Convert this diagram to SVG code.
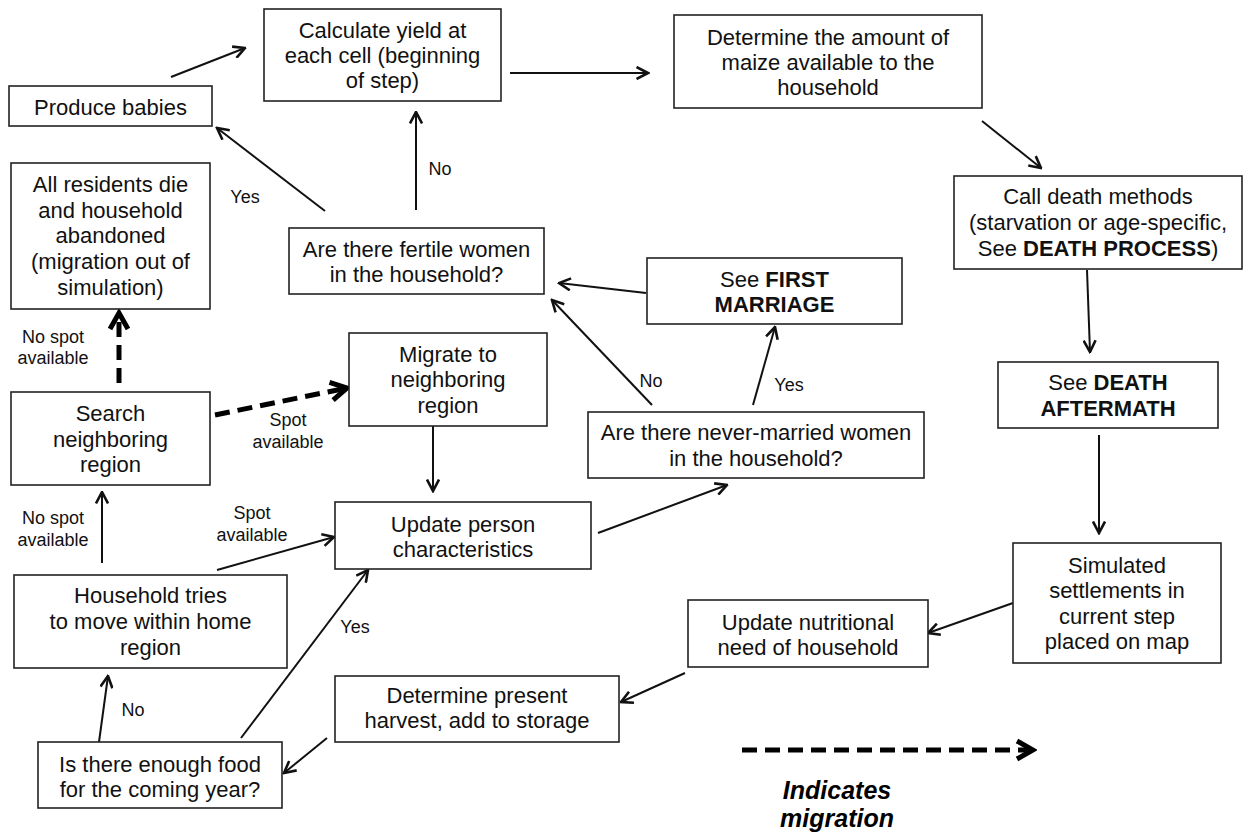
<svg xmlns="http://www.w3.org/2000/svg" width="1249" height="834" viewBox="0 0 1249 834">
<defs>
<style>
.box{fill:#fff;stroke:#222;stroke-width:1.6}
.t{font-family:"Liberation Sans",Arial,sans-serif;font-size:22px;fill:#111;text-anchor:middle}
.b{font-weight:bold}
.l{font-family:"Liberation Sans",Arial,sans-serif;font-size:18px;fill:#111;text-anchor:middle}
.c{stroke:#111;stroke-width:2;fill:none;marker-end:url(#ah)}
.d{stroke:#000;stroke-width:5;fill:none;stroke-dasharray:15 8;marker-end:url(#dh)}
.lg{font-family:"Liberation Sans",Arial,sans-serif;font-size:25px;font-weight:bold;font-style:italic;fill:#000;text-anchor:middle}
</style>
<marker id="ah" viewBox="0 0 14 14" markerWidth="14" markerHeight="14" refX="12.5" refY="7" orient="auto" markerUnits="userSpaceOnUse">
<path d="M1,1 L12.5,7 L1,13" fill="none" stroke="#111" stroke-width="2.6" stroke-linejoin="miter"/>
</marker>
<marker id="dh" viewBox="0 0 24 24" markerWidth="24" markerHeight="24" refX="20" refY="12" orient="auto" markerUnits="userSpaceOnUse">
<path d="M4,3 L20,12 L4,21" fill="none" stroke="#000" stroke-width="5"/>
</marker>
</defs>
<rect width="1249" height="834" fill="#fff"/>

<g id="connectors">
<line class="c" x1="171" y1="77" x2="245" y2="48"/>
<line class="c" x1="510" y1="73" x2="648" y2="73"/>
<line class="c" x1="982" y1="121" x2="1041" y2="168"/>
<line class="c" x1="1087" y1="270" x2="1090" y2="352"/>
<line class="c" x1="1099" y1="435" x2="1099" y2="533"/>
<line class="c" x1="1013" y1="603" x2="928" y2="633"/>
<line class="c" x1="685" y1="673" x2="621" y2="702"/>
<line class="c" x1="327" y1="738" x2="284" y2="773"/>
<line class="c" x1="99" y1="742" x2="108" y2="676"/>
<line class="c" x1="241" y1="738" x2="368" y2="570"/>
<line class="c" x1="102" y1="563" x2="102" y2="492"/>
<line class="c" x1="217" y1="570" x2="334" y2="537"/>
<line class="d" x1="119" y1="383" x2="119" y2="313"/>
<line class="d" x1="215" y1="415" x2="347" y2="388"/>
<line class="c" x1="433" y1="426" x2="433" y2="491"/>
<line class="c" x1="598" y1="533" x2="727" y2="485"/>
<line class="c" x1="753" y1="405" x2="775" y2="327"/>
<line class="c" x1="652" y1="405" x2="552" y2="300"/>
<line class="c" x1="646" y1="293" x2="559" y2="283"/>
<line class="c" x1="416" y1="210" x2="416" y2="112"/>
<line class="c" x1="325" y1="211" x2="217" y2="128"/>
<text class="l" x="245" y="203">Yes</text>
<text class="l" x="440" y="175">No</text>
<text class="l" x="53" y="343">No spot</text>
<text class="l" x="53" y="364">available</text>
<text class="l" x="288" y="426">Spot</text>
<text class="l" x="288" y="448">available</text>
<text class="l" x="53" y="524">No spot</text>
<text class="l" x="53" y="546">available</text>
<text class="l" x="252" y="519">Spot</text>
<text class="l" x="252" y="541">available</text>
<text class="l" x="355" y="633">Yes</text>
<text class="l" x="133" y="716">No</text>
<text class="l" x="651" y="387">No</text>
<text class="l" x="789" y="391">Yes</text>
</g>

<g id="produce-babies">
<rect class="box" x="9" y="86" width="203" height="40"/>
<text class="t" x="110.5" y="115">Produce babies</text>
</g>
<g id="calculate-yield">
<rect class="box" x="264" y="9" width="237" height="92"/>
<text class="t" x="382.5" y="38">Calculate yield at</text>
<text class="t" x="382.5" y="63">each cell (beginning</text>
<text class="t" x="382.5" y="88">of step)</text>
</g>
<g id="determine-maize">
<rect class="box" x="674" y="15" width="308" height="93"/>
<text class="t" x="828" y="45">Determine the amount of</text>
<text class="t" x="828" y="70">maize available to the</text>
<text class="t" x="828" y="95">household</text>
</g>
<g id="call-death">
<rect class="box" x="954" y="176" width="288" height="93"/>
<text class="t" x="1098" y="204">Call death methods</text>
<text class="t" x="1098" y="230">(starvation or age-specific,</text>
<text class="t" x="1098" y="256">See <tspan class="b">DEATH PROCESS</tspan>)</text>
</g>
<g id="death-aftermath">
<rect class="box" x="998" y="362" width="220" height="66"/>
<text class="t" x="1108" y="390">See <tspan class="b">DEATH</tspan></text>
<text class="t b" x="1108" y="416">AFTERMATH</text>
</g>
<g id="simulated-settlements">
<rect class="box" x="1013" y="543" width="208" height="120"/>
<text class="t" x="1117" y="573">Simulated</text>
<text class="t" x="1117" y="598">settlements in</text>
<text class="t" x="1117" y="624">current step</text>
<text class="t" x="1117" y="649">placed on map</text>
</g>
<g id="update-nutritional">
<rect class="box" x="688" y="600" width="240" height="67"/>
<text class="t" x="808" y="630">Update nutritional</text>
<text class="t" x="808" y="655">need of household</text>
</g>
<g id="determine-harvest">
<rect class="box" x="335" y="676" width="284" height="66"/>
<text class="t" x="477" y="703">Determine present</text>
<text class="t" x="477" y="728">harvest, add to storage</text>
</g>
<g id="enough-food">
<rect class="box" x="38" y="742" width="244" height="66"/>
<text class="t" x="160" y="772">Is there enough food</text>
<text class="t" x="160" y="797">for the coming year?</text>
</g>
<g id="household-move">
<rect class="box" x="14" y="575" width="273" height="93"/>
<text class="t" x="150.5" y="603">Household tries</text>
<text class="t" x="150.5" y="629">to move within home</text>
<text class="t" x="150.5" y="655">region</text>
</g>
<g id="search-neighboring">
<rect class="box" x="11" y="392" width="199" height="93"/>
<text class="t" x="110.5" y="421">Search</text>
<text class="t" x="110.5" y="447">neighboring</text>
<text class="t" x="110.5" y="472">region</text>
</g>
<g id="all-residents-die">
<rect class="box" x="11" y="163" width="199" height="146"/>
<text class="t" x="110.5" y="192">All residents die</text>
<text class="t" x="110.5" y="218">and household</text>
<text class="t" x="110.5" y="243">abandoned</text>
<text class="t" x="110.5" y="269">(migration out of</text>
<text class="t" x="110.5" y="295">simulation)</text>
</g>
<g id="migrate-neighboring">
<rect class="box" x="349" y="333" width="198" height="93"/>
<text class="t" x="448" y="362">Migrate to</text>
<text class="t" x="448" y="387">neighboring</text>
<text class="t" x="448" y="413">region</text>
</g>
<g id="update-person">
<rect class="box" x="335" y="502" width="256" height="67"/>
<text class="t" x="463" y="532">Update person</text>
<text class="t" x="463" y="557">characteristics</text>
</g>
<g id="never-married">
<rect class="box" x="588" y="412" width="336" height="66"/>
<text class="t" x="756" y="440">Are there never-married women</text>
<text class="t" x="756" y="466">in the household?</text>
</g>
<g id="first-marriage">
<rect class="box" x="647" y="258" width="255" height="66"/>
<text class="t" x="774.5" y="287">See <tspan class="b">FIRST</tspan></text>
<text class="t b" x="774.5" y="312">MARRIAGE</text>
</g>
<g id="fertile-women">
<rect class="box" x="289" y="228" width="255" height="66"/>
<text class="t" x="416.5" y="257">Are there fertile women</text>
<text class="t" x="416.5" y="282">in the household?</text>
</g>
<g id="legend">
<line class="d" x1="742" y1="750" x2="1033" y2="750"/>
<text class="lg" x="837" y="799">Indicates</text>
<text class="lg" x="837" y="827">migration</text>
</g>
</svg>
